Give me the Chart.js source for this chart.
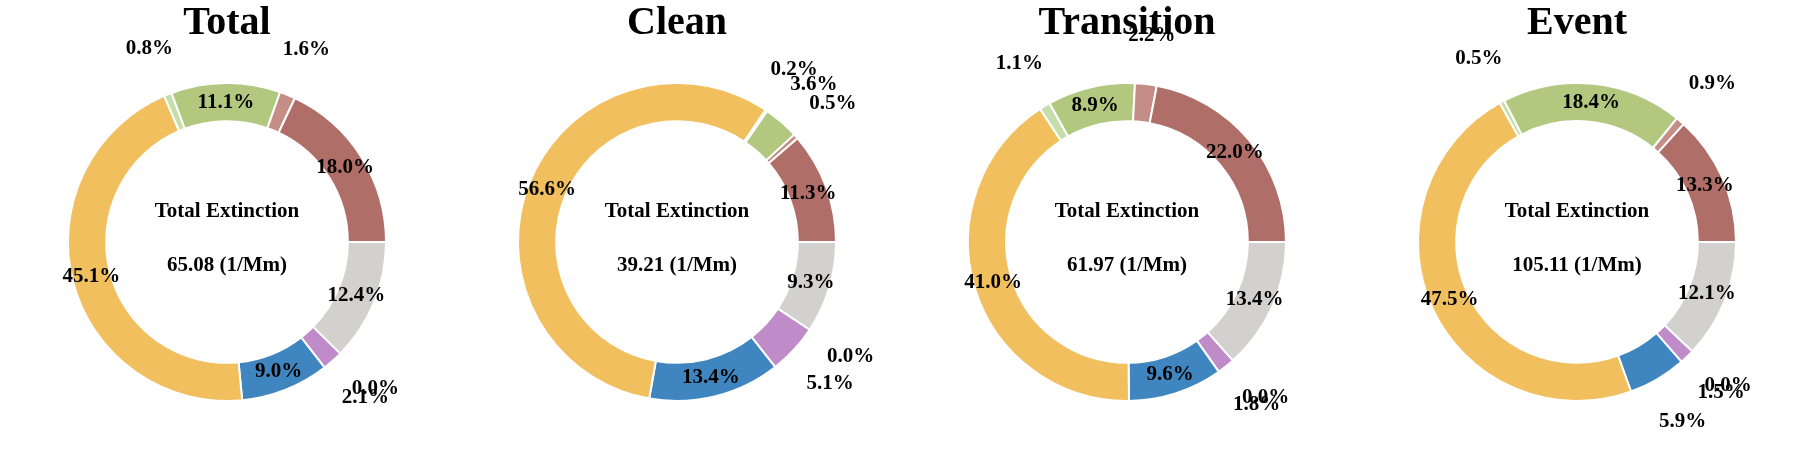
<!DOCTYPE html>
<html><head><meta charset="utf-8">
<script src="https://cdn.jsdelivr.net/npm/chart.js@4"></script>
<style>
body{margin:0;background:#fff;width:1800px;height:450px;overflow:hidden;display:flex}
.p{width:450px;height:450px;position:relative}
</style></head><body>
<div class="p"><canvas id="c0" width="450" height="450"></canvas></div>
<div class="p"><canvas id="c1" width="450" height="450"></canvas></div>
<div class="p"><canvas id="c2" width="450" height="450"></canvas></div>
<div class="p"><canvas id="c3" width="450" height="450"></canvas></div>
<script>
const titles = ["Total","Clean","Transition","Event"];
const totals = ["65.08","39.21","61.97","105.11"];
const components = ["C1","C2","C3","C4","C5","C6","C7","C8","C9"];
const totalPct = [12.4,0.0,2.1,9.0,45.1,0.8,11.1,1.6,18.0];
const cleanPct = [9.3,0.0,5.1,13.4,56.6,0.2,3.6,0.5,11.3];
const transitionPct = [13.4,0.0,1.8,9.6,41.0,1.1,8.9,2.2,22.0];
const eventPct = [12.1,0.0,1.5,5.9,47.5,0.5,18.4,0.9,13.3];
const colors = ["#D2D1CD","#8C8C8C","#C08BC9","#3F85C0","#F1BF5E","#C5DDAA","#B2C87F","#C48E87","#AF6E68"];
const series = [totalPct,cleanPct,transitionPct,eventPct];
const F = "'Liberation Serif','Times New Roman',serif";

const labelPlugin = {
  id:'lbl',
  afterDatasetsDraw(chart){
    const ctx = chart.ctx, meta = chart.getDatasetMeta(0), data = chart.data.datasets[0].data;
    ctx.save();
    ctx.fillStyle='#000';ctx.textAlign='center';ctx.textBaseline='middle';
    ctx.font = "bold 21px "+F;
    meta.data.forEach((a,i)=>{
      const p=a.getProps(['x','y','startAngle','endAngle','outerRadius','innerRadius'],true);
      const mid=(p.startAngle+p.endAngle)/2;
      const r = data[i] >= 7 ? (p.outerRadius+p.innerRadius)/2 : p.outerRadius*1.31;
      ctx.fillText(data[i].toFixed(1)+'%', p.x+Math.cos(mid)*r, p.y+Math.sin(mid)*r);
    });
    const cx=meta.data[0].x, cy=meta.data[0].y, k=chart.options.plugins.lbl;
    ctx.font="bold 21px "+F;
    ctx.fillText('Total Extinction', cx, cy-30);
    ctx.fillText(k.total+' (1/Mm)', cx, cy+24);
    ctx.font="bold 40px "+F;
    ctx.fillText(k.title, cx, 24);
    ctx.restore();
  }
};

series.forEach((vals,idx)=>{
  new Chart(document.getElementById('c'+idx),{
    type:'doughnut',
    data:{labels:components,datasets:[{data:vals,backgroundColor:colors,borderColor:'#fff',borderWidth:2}]},
    options:{
      responsive:false,animation:false,cutout:'76%',rotation:90,
      layout:{padding:{left:67,right:63,top:82,bottom:48}},
      plugins:{legend:{display:false},tooltip:{enabled:false},lbl:{title:titles[idx],total:totals[idx]}}
    },
    plugins:[labelPlugin]
  });
});
</script>
</body></html>
